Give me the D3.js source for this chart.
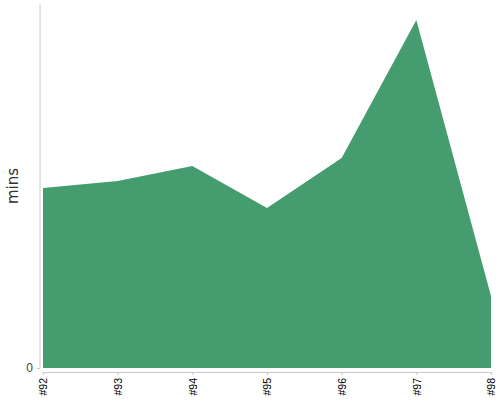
<!DOCTYPE html>
<html>
<head>
<meta charset="utf-8">
<script src="https://cdn.jsdelivr.net/npm/d3@7"></script>
<style>
  body { margin: 0; background: #fff; }
  svg { font-family: "DejaVu Sans", sans-serif; }
</style>
</head>
<body>
<svg id="chart" width="500" height="400"></svg>
<script>
// build numbers and minutes per build
var builds = ["#92", "#93", "#94", "#95", "#96", "#97", "#98"];
var mins = [18.0, 18.7, 20.2, 16.0, 21.0, 34.8, 7.2];
var yTicks = [0];

var svg = d3.select("#chart");

var x = d3.scalePoint()
    .domain(builds)
    .range([43, 491]);

var y = d3.scaleLinear()
    .domain([0, 36.4])
    .range([368, 4]);

var data = builds.map((b, i) => ({ build: b, v: mins[i] }));

// area
var area = d3.area()
    .x(d => x(d.build))
    .y0(y(0))
    .y1(d => y(d.v));

svg.append("path")
    .datum(data)
    .attr("fill", "#459c6e")
    .attr("d", area);

// y axis
var yAxis = svg.append("g")
    .attr("transform", "translate(40,0)")
    .call(d3.axisLeft(y).tickValues(yTicks).tickSize(3).tickPadding(4));
yAxis.select(".domain").attr("stroke", "#c8c8c8").attr("d", "M0,4V368");
yAxis.selectAll(".tick line").attr("stroke", "#c8c8c8");
yAxis.selectAll(".tick text").attr("fill", "#444").attr("font-size", 12);

// x axis
var xAxis = svg.append("g")
    .attr("transform", "translate(0,372)")
    .call(d3.axisBottom(x).tickSize(3).tickSizeOuter(0));
xAxis.select(".domain").attr("stroke", "#c8c8c8");
xAxis.selectAll(".tick line").attr("stroke", "#c8c8c8");
xAxis.selectAll(".tick text")
    .attr("fill", "#000")
    .attr("font-size", 10.5)
    .attr("text-anchor", "end")
    .attr("transform", "rotate(-90)")
    .attr("x", -6)
    .attr("y", 0)
    .attr("dy", "0.35em");

// y label
svg.append("text")
    .attr("transform", "translate(18,186) rotate(-90)")
    .attr("text-anchor", "middle")
    .attr("font-size", 15)
    .attr("fill", "#333")
    .text("mins");
</script>
</body>
</html>
